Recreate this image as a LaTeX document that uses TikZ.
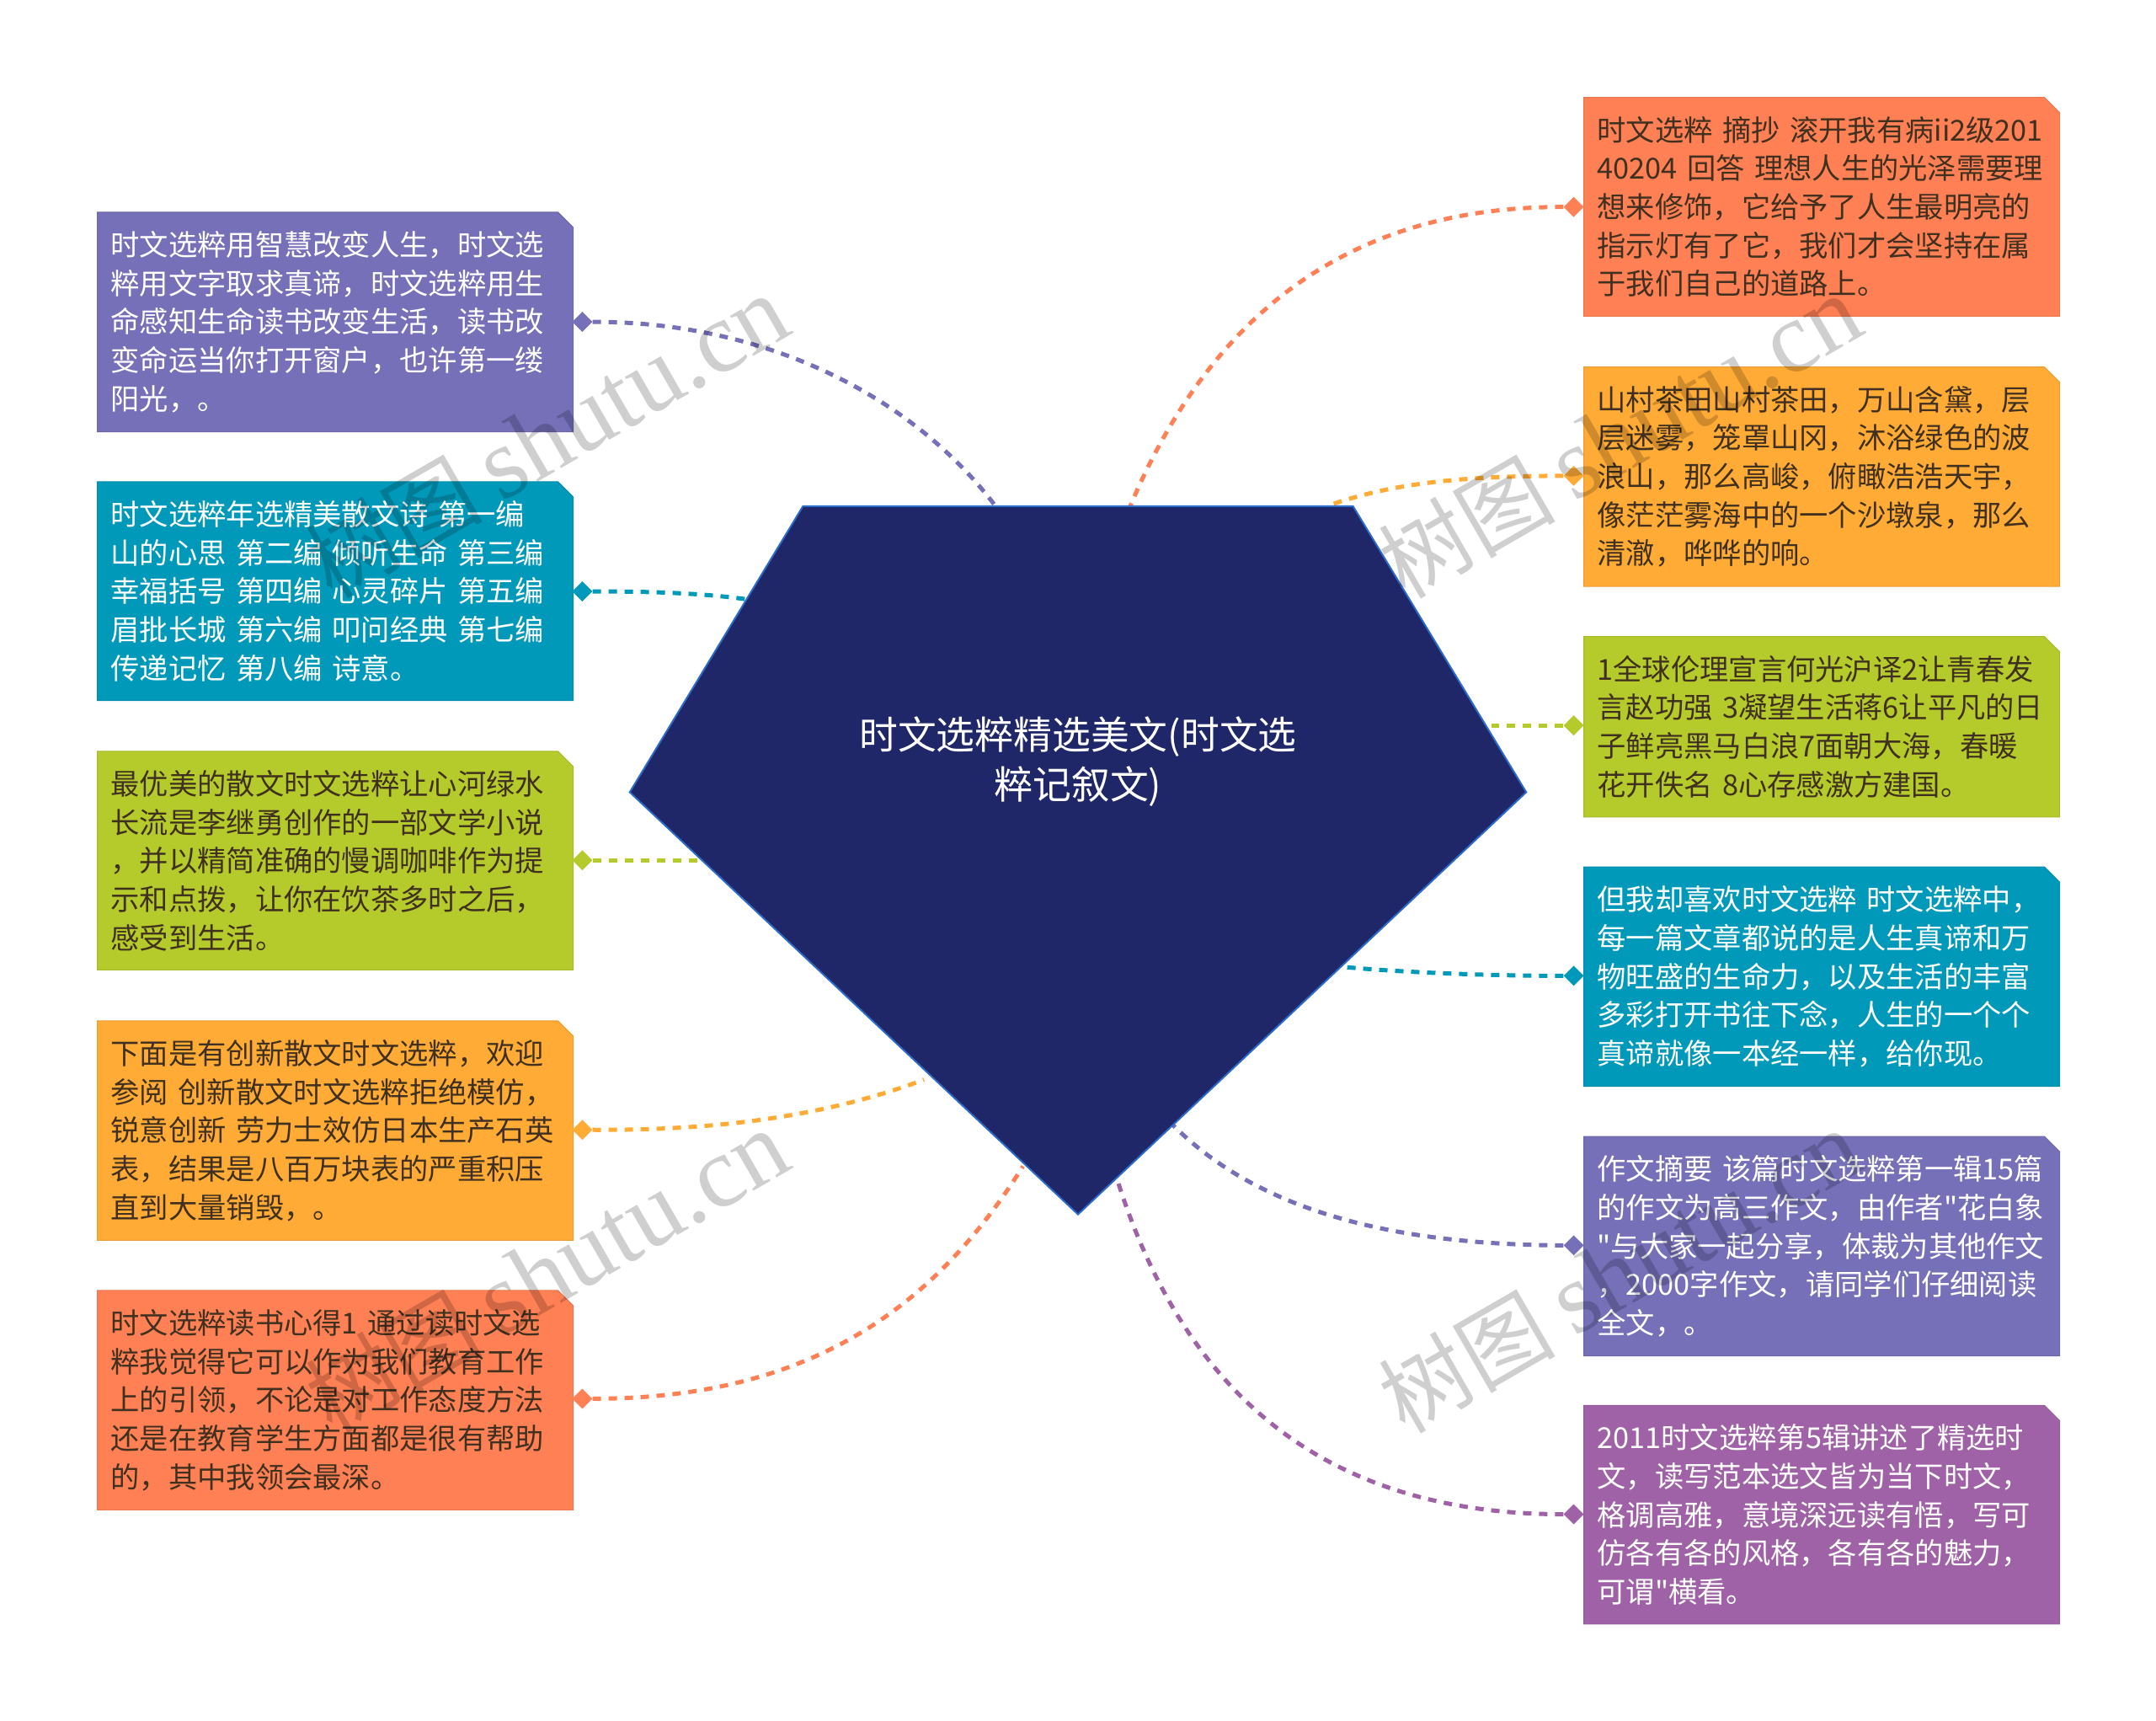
\documentclass[tikz,border=0pt]{standalone}
\usepackage{fontspec}
\newfontfamily\cjkmain{Noto Sans CJK SC}
\newfontfamily\wmserif{Liberation Serif}
\usetikzlibrary{shapes.geometric,shapes.misc}
\definecolor{cOrange}{HTML}{FF8054}
\definecolor{cYellow}{HTML}{FFAB35}
\definecolor{cGreen}{HTML}{B5CA2B}
\definecolor{cTeal}{HTML}{0099BA}
\definecolor{cPeri}{HTML}{7570B8}
\definecolor{cPurple}{HTML}{A062A6}
\definecolor{cNavy}{HTML}{1F2768}
\definecolor{cEdge}{HTML}{2B6CCB}
\definecolor{cInk}{HTML}{40301F}
\tikzset{
  card/.style={shape=chamfered rectangle,chamfered rectangle corners=north east,
    chamfered rectangle xsep=9pt,chamfered rectangle ysep=9pt,
    anchor=north west,text width=533pt,inner xsep=7pt,inner ysep=13.5pt,
    align=left,font=\cjkmain\fontsize{34.3}{45.7}\selectfont,fill=#1,draw=#1!92!black,line width=1pt},
  five/.style={card=#1},
  four/.style={card=#1},
  dark/.style={text=cInk},
  light/.style={text=white},
  tip/.style={shape=diamond,fill=#1,inner sep=0pt,minimum width=24pt,minimum height=24pt},
  link/.style={draw=#1,line width=5pt,dash pattern=on 10pt off 9pt},
  hubtext/.style={text=white,align=center,font=\cjkmain\fontsize{45.8}{59}\selectfont},
  wmark/.style={text=black,text opacity=.19,rotate=30,font=\fontsize{120}{120}\selectfont}
}
\newcommand{\wmtext}{{\cjkmain\fontsize{105}{105}\selectfont 树图}\hspace{22pt}{\wmserif shutu.cn}}
\begin{document}
\begin{tikzpicture}[x=1.6327pt,y=-1.6327pt]
\useasboundingbox[fill=white] (0,0) rectangle (1568,1251);

% left cards
\node[five=cPeri,light] (L1) at (70.5,154) {时文选粹用智慧改变人生，时文选\\粹用文字取求真谛，时文选粹用生\\命感知生命读书改变生活，读书改\\变命运当你打开窗户，也许第一缕\\阳光，。};
\node[five=cTeal,light] (L2) at (70.5,350) {时文选粹年选精美散文诗~第一编\\山的心思~第二编~倾听生命~第三编\\幸福括号~第四编~心灵碎片~第五编\\眉批长城~第六编~叩问经典~第七编\\传递记忆~第八编~诗意。};
\node[five=cGreen,dark] (L3) at (70.5,546) {最优美的散文时文选粹让心河绿水\\长流是李继勇创作的一部文学小说\\，并以精简准确的慢调咖啡作为提\\示和点拨，让你在饮茶多时之后，\\感受到生活。};
\node[five=cYellow,dark] (L4) at (70.5,742) {下面是有创新散文时文选粹，欢迎\\参阅~创新散文时文选粹拒绝模仿，\\锐意创新~劳力士效仿日本生产石英\\表，结果是八百万块表的严重积压\\直到大量销毁，。};
\node[five=cOrange,dark] (L5) at (70.5,938) {时文选粹读书心得1~通过读时文选\\粹我觉得它可以作为我们教育工作\\上的引领，不论是对工作态度方法\\还是在教育学生方面都是很有帮助\\的，其中我领会最深。};

% right cards
\node[five=cOrange,dark] (R1) at (1151.5,70.5) {时文选粹~摘抄~滚开我有病ii2级201\\40204~回答~理想人生的光泽需要理\\想来修饰，它给予了人生最明亮的\\指示灯有了它，我们才会坚持在属\\于我们自己的道路上。};
\node[five=cYellow,dark] (R2) at (1151.5,266.5) {山村茶田山村茶田，万山含黛，层\\层迷雾，笼罩山冈，沐浴绿色的波\\浪山，那么高峻，俯瞰浩浩天宇，\\像茫茫雾海中的一个沙墩泉，那么\\清澈，哗哗的响。};
\node[four=cGreen,dark] (R3) at (1151.5,462.5) {1全球伦理宣言何光沪译2让青春发\\言赵功强~3凝望生活蒋6让平凡的日\\子鲜亮黑马白浪7面朝大海，春暖\\花开佚名~8心存感激方建国。};
\node[five=cTeal,light] (R4) at (1151.5,630) {但我却喜欢时文选粹~时文选粹中，\\每一篇文章都说的是人生真谛和万\\物旺盛的生命力，以及生活的丰富\\多彩打开书往下念，人生的一个个\\真谛就像一本经一样，给你现。};
\node[five=cPeri,light] (R5) at (1151.5,826) {作文摘要~该篇时文选粹第一辑15篇\\的作文为高三作文，由作者"花白象\\"与大家一起分享，体裁为其他作文\\，2000字作文，请同学们仔细阅读\\全文，。};
\node[five=cPurple,light] (R6) at (1151.5,1021.5) {2011时文选粹第5辑讲述了精选时\\文，读写范本选文皆为当下时文，\\格调高雅，意境深远读有悟，写可\\仿各有各的风格，各有各的魅力，\\可谓"横看。};

% tips
\node[tip=cPeri]   (tL1) at (423.5,234) {};
\node[tip=cTeal]   (tL2) at (423.5,430) {};
\node[tip=cGreen]  (tL3) at (423.5,625.5) {};
\node[tip=cYellow] (tL4) at (423.5,821.5) {};
\node[tip=cOrange] (tL5) at (423.5,1017) {};
\node[tip=cOrange] (tR1) at (1144.5,150.5) {};
\node[tip=cYellow] (tR2) at (1144.5,346) {};
\node[tip=cGreen]  (tR3) at (1144.5,527.5) {};
\node[tip=cTeal]   (tR4) at (1144.5,709.5) {};
\node[tip=cPeri]   (tR5) at (1144.5,905.5) {};
\node[tip=cPurple] (tR6) at (1144.5,1101) {};

% hub outline points and connector ends
\coordinate (h1) at (584,368);
\coordinate (h2) at (984,368);
\coordinate (h3) at (1110,576);
\coordinate (h4) at (784,883);
\coordinate (h5) at (458,576);
\coordinate (eL1) at (724,368);
\coordinate (eL2) at (545,436);
\coordinate (eL3) at (507,625.5);
\coordinate (eL4) at (672,785);
\coordinate (eL5) at (744,848);
\coordinate (eR1) at (822,368);
\coordinate (eR2) at (965,368);
\coordinate (eR3) at (1085,527.5);
\coordinate (eR4) at (976,703);
\coordinate (eR5) at (853,818);
\coordinate (eR6) at (812,856);

% connectors
\draw[link=cPeri]   (tL1.east) .. controls (560,234) and (665,290) .. (eL1);
\draw[link=cTeal]   (tL2.east) .. controls (470,430) and (510,431) .. (eL2);
\draw[link=cGreen]  (tL3.east) -- (eL3);
\draw[link=cYellow] (tL4.east) .. controls (520,822) and (600,812) .. (eL4);
\draw[link=cOrange] (tL5.east) .. controls (590,1017) and (680,950) .. (eL5);
\draw[link=cOrange] (tR1.west) .. controls (980,150) and (880,230) .. (eR1);
\draw[link=cYellow] (tR2.west) .. controls (1060,346) and (1010,352) .. (eR2);
\draw[link=cGreen]  (tR3.west) -- (eR3);
\draw[link=cTeal]   (tR4.west) .. controls (1080,709.5) and (1020,707) .. (eR4);
\draw[link=cPeri]   (tR5.west) .. controls (1000,905) and (910,875) .. (eR5);
\draw[link=cPurple] (tR6.west) .. controls (960,1101) and (860,1010) .. (eR6);

% hub
\draw[fill=cNavy,draw=cEdge,line width=2pt,line join=miter] (h1) -- (h2) -- (h3) -- (h4) -- (h5) -- cycle;
\node[hubtext] (hub) at (784,554) {时文选粹精选美文(时文选\\粹记叙文)};

% watermarks
\node[wmark] (w1) at (398,318) {\wmtext};
\node[wmark] (w2) at (1178,318) {\wmtext};
\node[wmark] (w3) at (398,925) {\wmtext};
\node[wmark] (w4) at (1178,925) {\wmtext};
\end{tikzpicture}
\end{document}
